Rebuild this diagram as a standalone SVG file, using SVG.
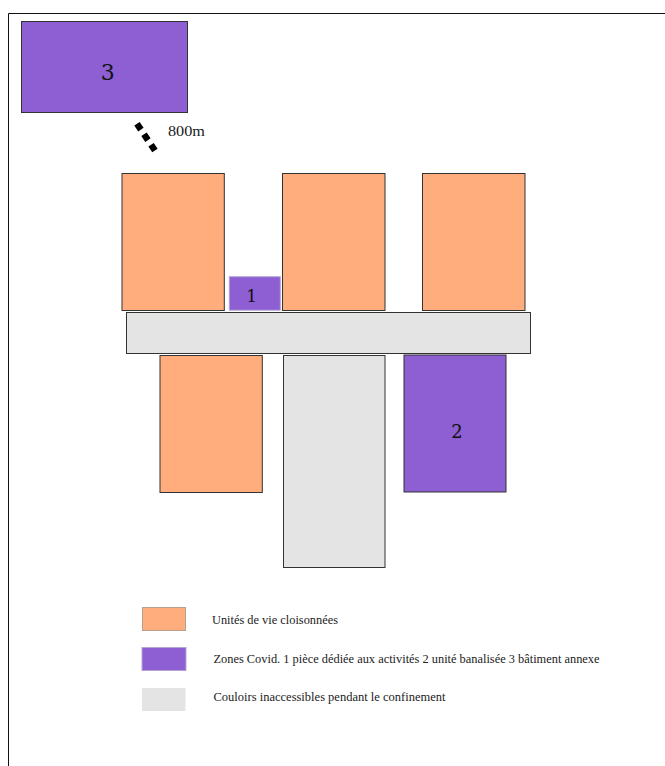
<svg xmlns="http://www.w3.org/2000/svg" width="665" height="766" viewBox="0 0 665 766">
<style>
.u{fill:#ffad7d;stroke:#333;stroke-width:1}
.z{fill:#8d5fd3;stroke:#333;stroke-width:1}
.c{fill:#e4e4e4;stroke:#333;stroke-width:1}
text{font-family:"Liberation Serif","DejaVu Serif",serif;fill:#222}
.n{font-family:"DejaVu Serif","Liberation Serif",serif;text-anchor:middle;fill:#111}
.l{font-size:12px}
</style>
<rect width="665" height="766" fill="#fff"/>
<path id="frame" d="M8.500 766V13.500H665" fill="none" stroke="#111" stroke-width="1"/>
<g id="connectors"><line x1="137" y1="123.800" x2="155" y2="150.600" stroke="#000" stroke-width="6.500" stroke-dasharray="7 5.600"/></g>
<g id="node-3"><rect class="z" x="21.500" y="21.500" width="166" height="91"/><text class="n" x="107.700" y="80" font-size="22">3</text></g>
<text id="distance" x="168" y="136" font-size="14" textLength="37" lengthAdjust="spacingAndGlyphs">800m</text>
<g id="unit-a"><rect class="u" x="122" y="173.500" width="102.300" height="137"/></g>
<g id="unit-b"><rect class="u" x="282.500" y="173.500" width="102.500" height="137"/></g>
<g id="unit-c"><rect class="u" x="422.500" y="173.500" width="102.500" height="137"/></g>
<g id="node-1"><rect x="229.300" y="276.700" width="51" height="33.500" fill="#8d5fd3" stroke="#b5a5d5" stroke-width="1"/><text class="n" x="251.700" y="301.500" font-size="17">1</text></g>
<g id="corridor-h"><rect class="c" x="126.500" y="312.500" width="404" height="41"/></g>
<g id="unit-d"><rect class="u" x="160" y="355.500" width="102.300" height="137"/></g>
<g id="corridor-v"><rect class="c" x="283.500" y="355.500" width="101.500" height="212"/></g>
<g id="node-2"><rect class="z" x="404" y="355" width="102" height="137"/><text class="n" x="457" y="438" font-size="18">2</text></g>
<g id="legend-1"><rect x="142.500" y="607.500" width="43" height="23" fill="#ffad7d" stroke="#b5a090" stroke-width="1"/><text class="l" x="212" y="623.500" textLength="126" lengthAdjust="spacingAndGlyphs">Unités de vie cloisonnées</text></g>
<g id="legend-2"><rect x="142" y="647.500" width="44" height="23" fill="#8d5fd3" stroke="#b5a5d5" stroke-width="1"/><text class="l" x="213.500" y="663" textLength="386" lengthAdjust="spacingAndGlyphs">Zones Covid. 1 pièce dédiée aux activités 2 unité banalisée 3 bâtiment annexe</text></g>
<g id="legend-3"><rect x="142" y="688" width="43.500" height="23" fill="#e4e4e4"/><text class="l" x="213.500" y="701" textLength="232" lengthAdjust="spacingAndGlyphs">Couloirs inaccessibles pendant le confinement</text></g>
</svg>
